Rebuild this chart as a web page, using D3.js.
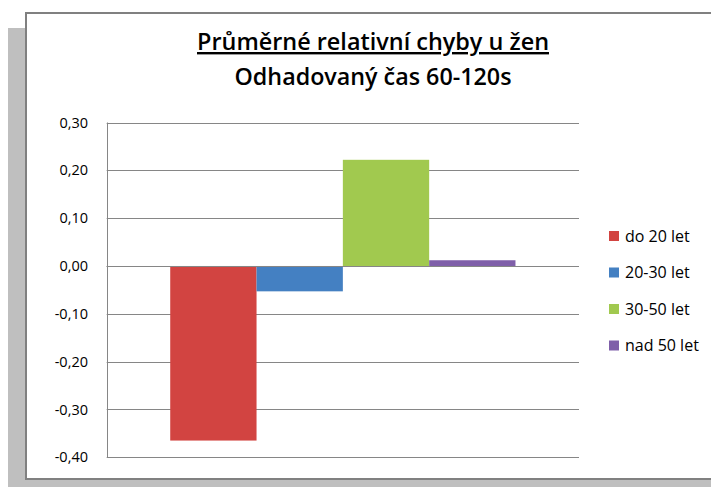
<!DOCTYPE html>
<html>
<head>
<meta charset="utf-8">
<script src="https://cdn.jsdelivr.net/npm/d3@7"></script>
<style>
  html, body { margin: 0; padding: 0; background: #ffffff; }
  svg { display: block; }
  text { font-family: "Open Sans", "Noto Sans", sans-serif; }
</style>
</head>
<body>
<svg id="chart" width="711" height="488"></svg>
<script>
// ---- data ----
const titleLines = ["Průměrné relativní chyby u žen", "Odhadovaný čas 60-120s"];
const categories = ["Odhadovaný čas 60-120s"];
const seriesNames = ["do 20 let", "20-30 let", "30-50 let", "nad 50 let"];
const seriesValues = [-0.365, -0.053, 0.222, 0.012];
const seriesColors = ["#d24441", "#4480c2", "#a1c94f", "#7f5fa9"];
const yTicks = [-0.4, -0.3, -0.2, -0.1, 0.0, 0.1, 0.2, 0.3];

// ---- layout ----
const W = 711, H = 488;
const plot = { left: 106.7, right: 579, top: 122.5, bottom: 457.3 };
const svg = d3.select("#chart");

// shadow + frame
svg.append("rect").attr("x", 8).attr("y", 28).attr("width", W).attr("height", 459)
  .attr("fill", "#bfbfbf");
svg.append("rect").attr("x", 26).attr("y", 13).attr("width", W).attr("height", 466)
  .attr("fill", "#ffffff").attr("stroke", "#808080").attr("stroke-width", 2);

// scales
const y = d3.scaleLinear().domain([-0.4, 0.3]).range([plot.bottom, plot.top]);
const x0 = d3.scaleBand().domain(categories).range([plot.left, plot.right])
  .paddingInner(0).paddingOuter(0.184);
const x1 = d3.scaleBand().domain(seriesNames).range([0, x0.bandwidth()]).padding(0);

const fmt = v => (v < -1e-9 ? "-" : "") + Math.abs(v).toFixed(2).replace(".", ",");

// gridlines
svg.append("g").selectAll("line").data(yTicks).join("line")
  .attr("x1", plot.left).attr("x2", plot.right)
  .attr("y1", d => Math.round(y(d)) + 0.5).attr("y2", d => Math.round(y(d)) + 0.5)
  .attr("stroke", "#868686").attr("stroke-width", 1);

// y axis line
svg.append("line")
  .attr("x1", Math.round(plot.left) + 0.5).attr("x2", Math.round(plot.left) + 0.5)
  .attr("y1", y(0.3)).attr("y2", y(-0.4) + 0.5)
  .attr("stroke", "#868686").attr("stroke-width", 1);

// tick labels
svg.append("g").selectAll("text").data(yTicks).join("text")
  .attr("x", 88).attr("y", d => y(d)).attr("dy", "0.35em")
  .attr("text-anchor", "end").attr("font-size", 14.5).attr("fill", "#000")
  .text(fmt);

// bars
const bars = categories.map(c => seriesNames.map((s, i) => ({ c, s, v: seriesValues[i], color: seriesColors[i] }))).flat();
svg.append("g").selectAll("rect").data(bars).join("rect")
  .attr("x", d => x0(d.c) + x1(d.s))
  .attr("width", x1.bandwidth())
  .attr("y", d => y(Math.max(0, d.v)))
  .attr("height", d => Math.abs(y(d.v) - y(0)))
  .attr("fill", d => d.color);

// zero line on top
svg.append("line")
  .attr("x1", plot.left).attr("x2", plot.right)
  .attr("y1", Math.round(y(0)) + 0.5).attr("y2", Math.round(y(0)) + 0.5)
  .attr("stroke", "#868686").attr("stroke-width", 1);

// title
const cx = 373;
svg.append("text").attr("x", cx).attr("y", 50).attr("text-anchor", "middle")
  .attr("font-size", 24).attr("font-weight", "600")
  .attr("textLength", 352).attr("lengthAdjust", "spacingAndGlyphs")
  .attr("text-decoration", "underline")
  .text(titleLines[0]);
svg.append("text").attr("x", cx).attr("y", 85).attr("text-anchor", "middle")
  .attr("font-size", 24).attr("font-weight", "600")
  .attr("textLength", 277).attr("lengthAdjust", "spacingAndGlyphs")
  .text(titleLines[1]);

// legend
const lg = svg.append("g");
const legY = [236, 272.5, 309, 345.5];
seriesNames.forEach((s, i) => {
  lg.append("rect").attr("x", 609).attr("y", legY[i] - 5).attr("width", 10).attr("height", 10)
    .attr("fill", seriesColors[i]);
  lg.append("text").attr("x", 625).attr("y", legY[i]).attr("dy", "0.35em")
    .attr("font-size", 16).attr("fill", "#000").text(s);
});
</script>
</body>
</html>
